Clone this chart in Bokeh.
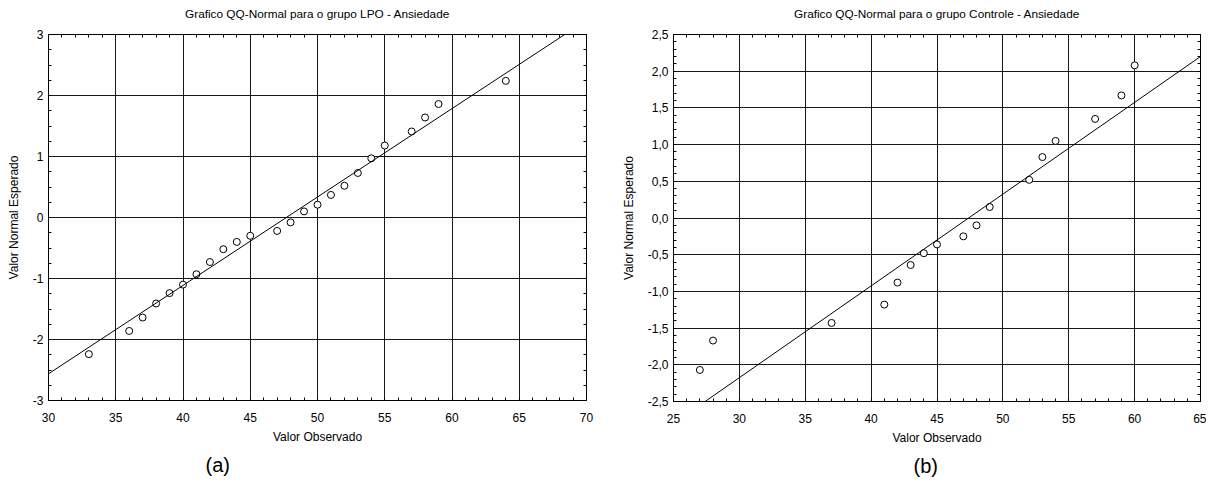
from bokeh.plotting import figure
from bokeh.layouts import row
from bokeh.models import (Range1d, LinearAxis, SingleIntervalTicker, Slope, Title, Grid,
                          CustomJSTickFormatter, ColumnDataSource)
from bokeh.embed import file_html
from bokeh.resources import INLINE

# ---- data: group LPO (a) ----
lpo_obs = [33, 36, 37, 38, 39, 40, 41, 42, 43, 44, 45, 47, 48, 49, 50, 51, 52, 53, 54, 55, 57, 58, 59, 64]
lpo_exp = [-2.24, -1.86, -1.64, -1.41, -1.24, -1.10, -0.93, -0.73, -0.52, -0.40, -0.30, -0.22,
           -0.08, 0.10, 0.21, 0.37, 0.52, 0.73, 0.97, 1.18, 1.41, 1.64, 1.86, 2.24]
lpo_mean, lpo_sd = 47.68, 6.9

# ---- data: group Controle (b) ----
ctl_obs = [27, 28, 37, 41, 42, 43, 44, 45, 47, 48, 49, 52, 53, 54, 57, 59, 60]
ctl_exp = [-2.07, -1.67, -1.43, -1.18, -0.88, -0.64, -0.48, -0.36, -0.25, -0.10, 0.15,
           0.52, 0.83, 1.05, 1.35, 1.67, 2.08]
ctl_mean, ctl_sd = 47.4, 8.0

FONT = "Liberation Sans"


def make_fig(title, xs, ys, xr, yr, yint, yminor, mean, sd, tag, tag_offset,
             fw, fh, bl, br, bt, bb, comma):
    p = figure(frame_width=fw, frame_height=fh, x_range=Range1d(*xr), y_range=Range1d(*yr),
               output_backend="svg", toolbar_location=None, x_axis_type=None, y_axis_type=None,
               min_border_left=bl, min_border_right=br, min_border_top=bt, min_border_bottom=bb)
    p.background_fill_color = "white"
    p.border_fill_color = "white"
    p.outline_line_color = "black"
    p.outline_line_width = 1

    xt = SingleIntervalTicker(interval=5, num_minor_ticks=5)
    yt = SingleIntervalTicker(interval=yint, num_minor_ticks=yminor)

    if comma:
        yfmt = CustomJSTickFormatter(code="return tick.toFixed(1).replace('.', ',');")
    else:
        yfmt = CustomJSTickFormatter(code="return Math.round(tick).toString();")
    blank = CustomJSTickFormatter(code="return '';")

    def style(ax, labels=True):
        ax.axis_line_color = "black"
        ax.major_tick_line_color = "black"
        ax.minor_tick_line_color = "black"
        ax.major_tick_in = 0
        ax.major_tick_out = 0
        ax.minor_tick_in = 3
        ax.minor_tick_out = 0
        ax.major_label_text_font = FONT
        ax.major_label_text_font_size = "12px" if labels else "0px"
        ax.major_label_text_color = "black"
        ax.major_label_standoff = 5 if labels else 0
        ax.axis_label_text_font = FONT
        ax.axis_label_text_font_size = "12px"
        ax.axis_label_text_font_style = "normal"
        ax.axis_label_text_color = "black"

    # grids
    p.add_layout(Grid(dimension=0, ticker=xt, grid_line_color="black", grid_line_alpha=0.9,
                      grid_line_width=1))
    p.add_layout(Grid(dimension=1, ticker=yt, grid_line_color="black", grid_line_alpha=0.9,
                      grid_line_width=1))

    xb = LinearAxis(ticker=xt, axis_label="Valor Observado")
    style(xb)
    xb.major_label_standoff = 12
    xb.axis_label_standoff = 5
    p.add_layout(xb, "below")

    yl = LinearAxis(ticker=yt, formatter=yfmt, axis_label="Valor Normal Esperado")
    style(yl)
    yl.axis_label_standoff = 9
    p.add_layout(yl, "left")

    xa = LinearAxis(ticker=xt, formatter=blank)
    style(xa, labels=False)
    p.add_layout(xa, "above")
    yr_ax = LinearAxis(ticker=yt, formatter=blank)
    style(yr_ax, labels=False)
    p.add_layout(yr_ax, "right")

    p.add_layout(Slope(gradient=1.0 / sd, y_intercept=-mean / sd,
                       line_color="black", line_width=1))

    src = ColumnDataSource(dict(x=xs, y=ys))
    p.scatter("x", "y", source=src, marker="circle", size=7, fill_color="white",
              line_color="black", line_width=1)

    # spacer between frame and title
    p.add_layout(Title(text=" ", text_font=FONT, text_font_size="1px", standoff=9), "above")
    p.add_layout(Title(text=title, align="center", text_font=FONT, text_font_size="11.8px",
                       text_font_style="normal", text_color="black", standoff=4), "above")

    p.add_layout(Title(text=tag, align="left", text_font=FONT, text_font_size="20px",
                       text_font_style="normal", text_color="black", offset=tag_offset,
                       standoff=10), "below")
    return p


p1 = make_fig("Grafico QQ-Normal para o grupo LPO - Ansiedade", lpo_obs, lpo_exp,
              (30, 70), (-3, 3), 1, 4, lpo_mean, lpo_sd, "(a)", 157,
              538, 366, 48, 20, 34, 78, False)
p2 = make_fig("Grafico QQ-Normal para o grupo Controle - Ansiedade", ctl_obs, ctl_exp,
              (25, 65), (-2.5, 2.5), 0.5, 5, ctl_mean, ctl_sd, "(b)", 240,
              527, 367, 67, 6, 34, 77, True)

layout = row(p1, p2)
open("out.html", "w").write(file_html(layout, INLINE))
